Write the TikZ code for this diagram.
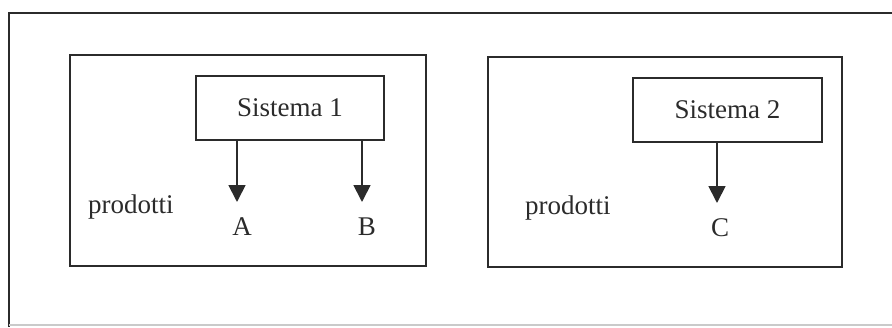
\documentclass[tikz,border=0pt]{standalone}
\usepackage{fontspec}
\setmainfont{Liberation Serif}
\usepackage{tikz}
\usetikzlibrary{arrows.meta,positioning}
\definecolor{ink}{HTML}{2B2B2B}
\tikzset{
  frame/.style  = {draw=ink, line width=2.6pt},
  panel/.style  = {draw=ink, line width=1.8pt, inner sep=0pt},
  sysbox/.style = {draw=ink, line width=1.8pt, inner sep=0pt, text=ink,
                   font=\fontsize{27}{32}\selectfont},
  prod/.style   = {inner sep=0pt, text=ink, font=\fontsize{27}{32}\selectfont},
  ar/.style     = {-{Triangle[length=17pt, width=17pt]}, draw=ink, line width=1.8pt},
}

\begin{document}
\begin{tikzpicture}[x=1pt, y=-1pt]
  \useasboundingbox (0,0) rectangle (892,327);
  % outer frame, cut off on the right
  \draw[frame] (892,13) -- (9,13) -- (9,327);
  \draw[ink!25, line width=1.5pt] (9,325) -- (892,325);

  % first system
  \node[panel, minimum width=356pt, minimum height=211pt] (p1) at (248,160.5) {};
  \node[sysbox, minimum width=188pt, minimum height=64pt] (s1) at (290,108) {Sistema 1};
  \node[prod, anchor=base west] (pr1) at (88,213) {prodotti};
  \node[prod] (a) at (242,227) {A};
  \node[prod] (b) at (367,227) {B};
  \coordinate (ta) at (237,202);
  \coordinate (tb) at (362,202);
  \draw[ar] (s1.south -| ta) -- (ta);
  \draw[ar] (s1.south -| tb) -- (tb);

  % second system
  \node[panel, minimum width=354pt, minimum height=210pt] (p2) at (665,162) {};
  \node[sysbox, minimum width=189pt, minimum height=64pt] (s2) at (727.5,110) {Sistema 2};
  \node[prod, anchor=base west] (pr2) at (525,214) {prodotti};
  \node[prod] (c) at (720,228) {C};
  \coordinate (tc) at (717,203);
  \draw[ar] (s2.south -| tc) -- (tc);
\end{tikzpicture}
\end{document}
